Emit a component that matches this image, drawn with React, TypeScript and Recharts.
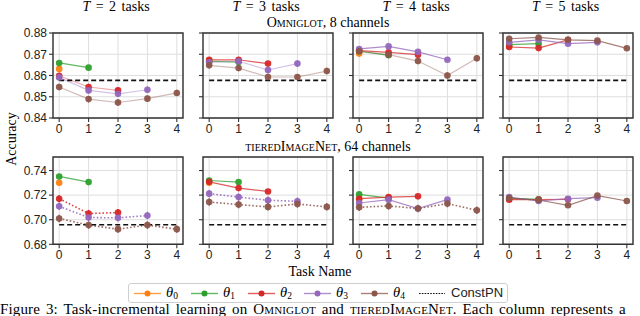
import React from 'react';
import { LineChart, Line, XAxis, YAxis, CartesianGrid, ReferenceArea, ErrorBar } from 'recharts';

// ---------- data ----------
const taskTicks = [0, 1, 2, 3, 4];
const taskCounts = [2, 3, 4, 5];
const omniglotTicks = [0.84, 0.85, 0.86, 0.87, 0.88];
const tieredTicks = [0.68, 0.7, 0.72, 0.74];
const seriesIndex = [0, 1, 2, 3, 4];
const omniglotConstPN = 0.8577;
const tieredConstPN = 0.6959;

// values[i] = accuracy of theta_i on tasks 0..i
const omniglotT2 = [[0.8631], [0.8659, 0.8637], [0.8599, 0.8546, 0.853], [0.8591, 0.853, 0.8514, 0.8533], [0.8546, 0.8489, 0.8473, 0.8491, 0.8518]];
const omniglotT3 = [[0.867], [0.8667, 0.8663], [0.8674, 0.8674, 0.8656], [0.8662, 0.8667, 0.8626, 0.8656], [0.8648, 0.8635, 0.8593, 0.8593, 0.8621]];
const omniglotT4 = [[0.8703], [0.8714, 0.8695], [0.8717, 0.8709, 0.8698], [0.8725, 0.8737, 0.8711, 0.8674], [0.8714, 0.8698, 0.8668, 0.86, 0.8681]];
const omniglotT5 = [[0.8738], [0.8745, 0.875], [0.8734, 0.8729, 0.8768], [0.8756, 0.8768, 0.875, 0.8756], [0.8773, 0.8779, 0.8768, 0.8764, 0.8728]];

const tieredT2 = [[0.73], [0.7352, 0.7306], [0.7171, 0.705, 0.7058], [0.7109, 0.7018, 0.7015, 0.7034], [0.701, 0.6956, 0.6923, 0.6956, 0.6923]];
const tieredT3 = [[0.73], [0.7319, 0.7306], [0.7308, 0.7257, 0.723], [0.7212, 0.7184, 0.7158, 0.715], [0.7144, 0.7123, 0.7104, 0.7128, 0.7104]];
const tieredT4 = [[0.7166], [0.7206, 0.7176], [0.7171, 0.7184, 0.719], [0.7136, 0.7163, 0.7091, 0.7163], [0.7101, 0.7112, 0.7091, 0.7131, 0.7077]];
const tieredT5 = [[0.7171], [0.7176, 0.7166], [0.7163, 0.7163, 0.7166], [0.7184, 0.7152, 0.7171, 0.7179], [0.7176, 0.716, 0.7117, 0.7196, 0.7152]];

const omniglotT2Err = [[0], [0, 0], [0.001, 0.0015, 0.0015], [0.0015, 0.0015, 0.0015, 0.0015], [0.0015, 0.0015, 0.0015, 0.0015, 0.0015]];
const omniglotT3Err = [[0], [0, 0], [0, 0, 0], [0.001, 0.0015, 0.0015, 0.0015], [0.0015, 0.0015, 0.0015, 0.001, 0.0015]];
const omniglotT4Err = [[0], [0, 0], [0, 0, 0], [0, 0, 0, 0], [0.001, 0.001, 0.0015, 0.0015, 0.0015]];
const omniglotT5Err = [[0], [0, 0], [0, 0, 0], [0, 0, 0, 0], [0, 0, 0, 0, 0]];
const tieredT2Err = [[0], [0, 0], [0.003, 0.003, 0.003], [0.003, 0.003, 0.003, 0.003], [0.003, 0.003, 0.003, 0.003, 0.003]];
const tieredT3Err = [[0], [0, 0], [0, 0, 0], [0.003, 0.003, 0.003, 0.003], [0.003, 0.003, 0.003, 0.003, 0.003]];
const tieredT4Err = [[0], [0, 0], [0, 0, 0], [0, 0, 0, 0], [0.003, 0.003, 0.003, 0.003, 0.003]];
const tieredT5Err = [[0], [0, 0], [0, 0, 0], [0, 0, 0, 0], [0, 0, 0, 0, 0]];

const omniglotPanels = [omniglotT2, omniglotT3, omniglotT4, omniglotT5];
const omniglotErrs = [omniglotT2Err, omniglotT3Err, omniglotT4Err, omniglotT5Err];
const tieredPanels = [tieredT2, tieredT3, tieredT4, tieredT5];
const tieredErrs = [tieredT2Err, tieredT3Err, tieredT4Err, tieredT5Err];

// ---------- style ----------
const colors = ['#ff7f0e', '#2ca02c', '#d62728', '#9467bd', '#8c564b'];
const panelLefts = [53, 203, 353, 502.5];
const PW = 130;
const ML = 40;
const MT = 6;
const tickFont = { fill: '#222', fontSize: 12, fontFamily: 'Liberation Sans, Arial, sans-serif' };
const serif = '"Liberation Serif", "Times New Roman", serif';

function makeDot(color: string) {
  return (p: any) => {
    if (p.cx == null || p.cy == null) return <g key={p.key} />;
    return <circle key={p.key} cx={p.cx} cy={p.cy} r={3.3} fill={color} fillOpacity={0.95} />;
  };
}

function Panel({ col, row }: { col: number; row: number }) {
  const isTop = row === 0;
  const values = isTop ? omniglotPanels[col] : tieredPanels[col];
  const errs = isTop ? omniglotErrs[col] : tieredErrs[col];
  const T = taskCounts[col];
  const domain: [number, number] = isTop ? [0.84, 0.88] : [0.68, 0.751];
  const ticks = isTop ? omniglotTicks : tieredTicks;
  const constVal = isTop ? omniglotConstPN : tieredConstPN;
  const H = isTop ? 85 : 87.3;
  const frameTop = isTop ? 33.3 : 157;
  const showY = col === 0;
  const constData = taskTicks.map((x) => ({ x, y: constVal }));
  return (
    <div style={{ position: 'absolute', left: panelLefts[col] - ML, top: frameTop - MT }}>
      <LineChart width={ML + PW + 6} height={MT + H + 24} margin={{ top: MT, right: 6, left: 0, bottom: 0 }}>
        <CartesianGrid stroke="#dedede" strokeWidth={1} />
        <XAxis
          type="number"
          dataKey="x"
          domain={[-0.21, 4.21]}
          ticks={taskTicks}
          interval={0}
          allowDataOverflow
          axisLine={false}
          tickSize={4}
          tickMargin={2}
          tickLine={{ stroke: '#333', strokeWidth: 1.1 }}
          tick={tickFont}
          height={24}
        />
        <YAxis
          type="number"
          dataKey="y"
          domain={domain}
          ticks={ticks}
          interval={0}
          allowDataOverflow
          axisLine={false}
          tickSize={4}
          tickMargin={2}
          width={ML}
          tickLine={{ stroke: '#333', strokeWidth: 1.1 }}
          tick={tickFont}
          tickFormatter={(v: number) => (showY ? v.toFixed(2) : '')}
        />
        {seriesIndex.map((i) => {
          const beyond = i >= T;
          const data = values[i].map((y, x) => ({ x, y, e: errs[i][x] }));
          const dotted = beyond && !isTop;
          return (
            <Line
              key={'s' + i}
              data={data}
              dataKey="y"
              stroke={colors[i]}
              strokeWidth={dotted ? 1.6 : 1.2}
              strokeOpacity={beyond ? (isTop ? 0.4 : 0.85) : 0.75}
              strokeDasharray={dotted ? '1.6 2' : undefined}
              dot={makeDot(colors[i])}
              activeDot={false}
              isAnimationActive={false}
            >
              <ErrorBar dataKey="e" width={0} stroke={colors[i]} strokeWidth={1.4} direction="y" />
            </Line>
          );
        })}
        <Line
          data={constData}
          dataKey="y"
          stroke="#111"
          strokeWidth={1.6}
          strokeDasharray="5 3"
          dot={false}
          activeDot={false}
          isAnimationActive={false}
        />
        <ReferenceArea x1={-0.21} x2={4.21} y1={domain[0]} y2={domain[1]} fill="none" stroke="#333" strokeWidth={1.4} ifOverflow="visible" />
      </LineChart>
    </div>
  );
}

const abs = (s: React.CSSProperties): React.CSSProperties => ({ position: 'absolute', ...s });
const sc: React.CSSProperties = { fontVariant: 'small-caps' };

export default function App() {
  const legendX = [5, 62, 119, 175, 232];
  return (
    <div style={{ position: 'absolute', left: 0, top: 0, width: 640, height: 316, overflow: 'hidden', background: '#fff', fontFamily: serif }}>
      {taskCounts.map((n, c) => (
        <div key={'t' + c} style={abs({ left: panelLefts[c] + PW / 2 - 2 - 70, width: 140, top: 0, textAlign: 'center', fontSize: 14, lineHeight: '14px', wordSpacing: 2, whiteSpace: 'nowrap' })}>
          <i>T</i> = {n} tasks
        </div>
      ))}
      <div style={abs({ left: 228, width: 200, top: 16, textAlign: 'center', fontSize: 14, lineHeight: '14px', whiteSpace: 'nowrap' })}>
        <span style={sc}>Omniglot</span>, 8 channels
      </div>
      <div style={abs({ left: 208, width: 240, top: 140, textAlign: 'center', fontSize: 14, lineHeight: '14px', whiteSpace: 'nowrap' })}>
        <span style={sc}>tieredImageNet</span>, 64 channels
      </div>
      <div style={abs({ left: 12 - 50, width: 100, top: 139 - 7, textAlign: 'center', fontSize: 14, lineHeight: '14px', transform: 'rotate(-90deg)' })}>
        Accuracy
      </div>
      <div style={abs({ left: 260, width: 120, top: 265, textAlign: 'center', fontSize: 14, lineHeight: '14px' })}>
        Task Name
      </div>
      {[0, 1].map((r) => [0, 1, 2, 3].map((c) => <Panel key={r + '-' + c} col={c} row={r} />))}
      <div style={abs({ left: 128, top: 283, width: 380, height: 20, border: '1px solid #cfcfcf', borderRadius: 3, boxSizing: 'border-box', background: '#fff' })}>
        {seriesIndex.map((i) => (
          <React.Fragment key={'l' + i}>
            <svg style={abs({ left: legendX[i], top: 4 })} width={27} height={11}>
              <line x1={0} x2={27} y1={5.5} y2={5.5} stroke={colors[i]} strokeOpacity={0.75} strokeWidth={1.4} />
              <circle cx={13.5} cy={5.5} r={3} fill={colors[i]} />
            </svg>
            <div style={abs({ left: legendX[i] + 32, top: 1, fontSize: 14.5, lineHeight: '14px', whiteSpace: 'nowrap' })}>
              <i>θ</i>
              <span style={{ fontSize: 9.5, position: 'relative', top: 2 }}>{i}</span>
            </div>
          </React.Fragment>
        ))}
        <svg style={abs({ left: 290, top: 4 })} width={26} height={11}>
          <line x1={0} x2={26} y1={5.5} y2={5.5} stroke="#111" strokeWidth={1.2} strokeDasharray="1.6 1.2" />
        </svg>
        <div style={abs({ left: 322, top: 2, fontSize: 13, lineHeight: '14px', fontFamily: 'Liberation Sans, Arial, sans-serif', color: '#222' })}>ConstPN</div>
      </div>
      <div style={abs({ left: 0, top: 302, fontSize: 15, lineHeight: '14px', whiteSpace: 'nowrap', wordSpacing: 2, letterSpacing: 0.15 })}>
        Figure 3: Task-incremental learning on <span style={sc}>Omniglot</span> and <span style={sc}>tieredImageNet</span>. Each column represents a
      </div>
    </div>
  );
}
